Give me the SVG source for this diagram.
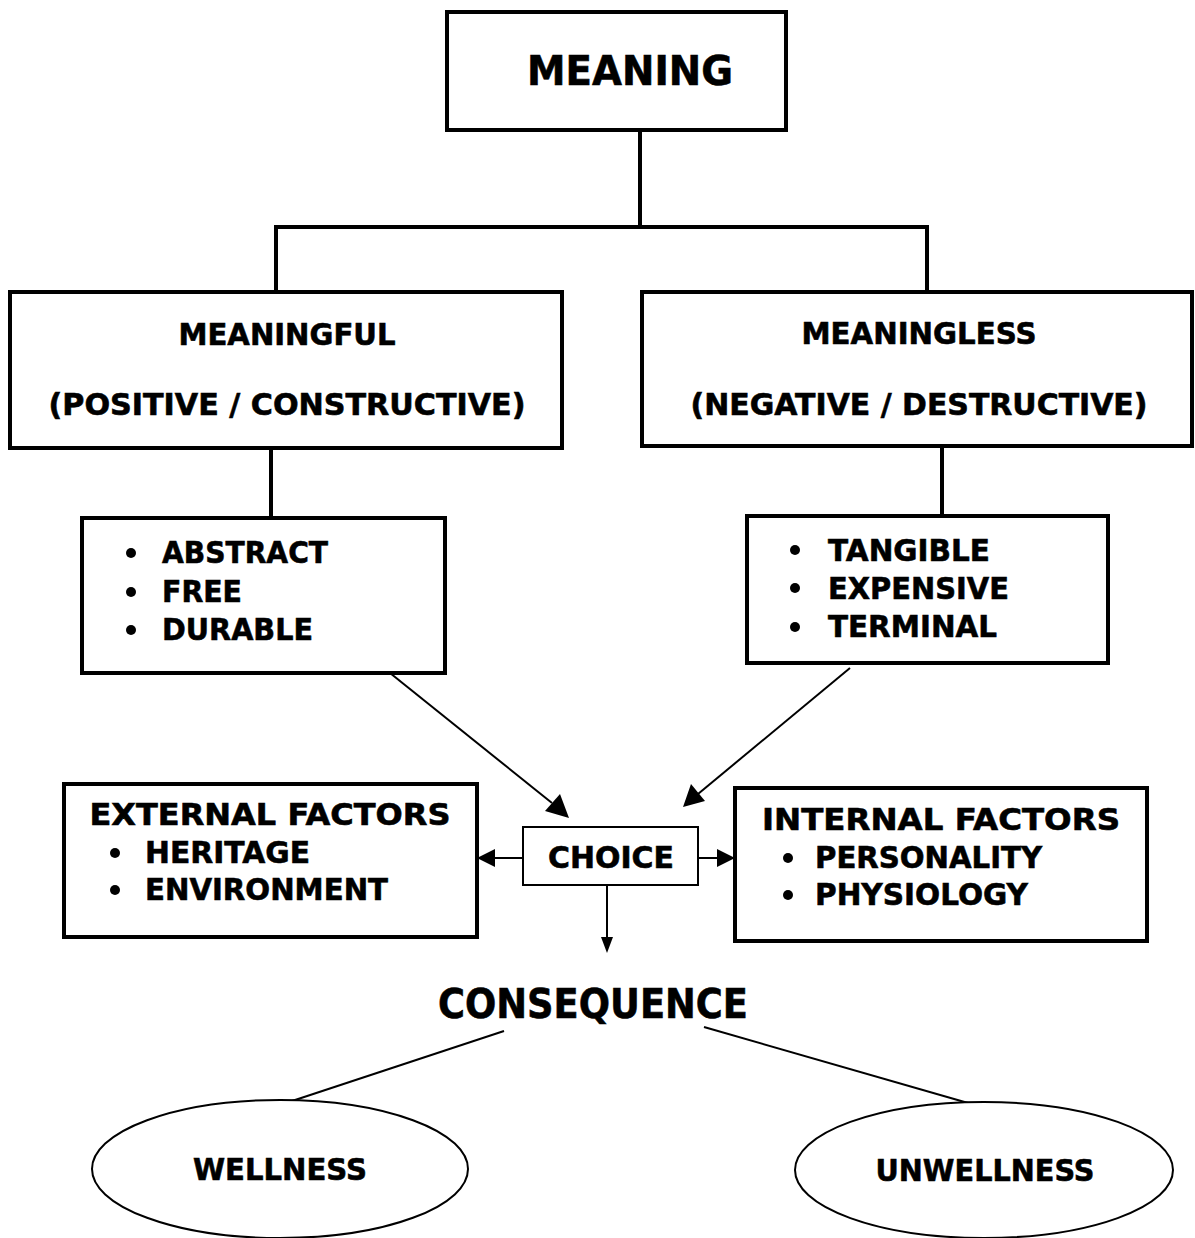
<svg xmlns="http://www.w3.org/2000/svg" width="1195" height="1238" viewBox="0 0 1195 1238">
<style>
text{font-family:"DejaVu Sans","Verdana","Liberation Sans",sans-serif;font-weight:bold;fill:#000;stroke:#000;stroke-width:0.6}
.box{fill:#fff;stroke:#000;stroke-width:4}
.thin{fill:#fff;stroke:#000;stroke-width:2}
.ln{stroke:#000;stroke-width:4;fill:none}
.ar{stroke:#000;stroke-width:2;fill:none}
.t28{font-size:30px}
.t38{font-size:40px}
</style>
<rect width="1195" height="1238" fill="#fff"/>
<g id="connectors">
<polyline class="ln" points="640,130 640,227"/>
<polyline class="ln" points="276,292 276,227 927,227 927,292"/>
<line class="ln" x1="271" y1="448" x2="271" y2="518"/>
<line class="ln" x1="942" y1="446" x2="942" y2="516"/>
<line class="ar" x1="390" y1="673" x2="552" y2="803"/>
<path d="M569,818 L545,811 L560,794 z" fill="#000"/>
<line class="ar" x1="850" y1="668" x2="698" y2="794"/>
<path d="M683,807 L691,784 L705,801 z" fill="#000"/>
<line class="ar" x1="523" y1="858" x2="492" y2="858"/>
<path d="M477,858 L495,849 L495,867 z" fill="#000"/>
<line class="ar" x1="698" y1="858" x2="720" y2="858"/>
<path d="M735,858 L717,849 L717,867 z" fill="#000"/>
<line class="ar" x1="607" y1="885" x2="607" y2="940"/>
<path d="M607,953 L601,937 L613,937 z" fill="#000"/>
<line class="ar" x1="504" y1="1031" x2="289" y2="1102"/>
<line class="ar" x1="704" y1="1027" x2="975" y2="1105"/>
</g>
<g id="meaning">
<rect class="box" x="447" y="12" width="339" height="118"/>
<text class="t38" x="630" y="85" text-anchor="middle" textLength="206" lengthAdjust="spacingAndGlyphs">MEANING</text>
</g>
<g id="meaningful">
<rect class="box" x="10" y="292" width="552" height="156"/>
<text class="t28" x="287" y="345" text-anchor="middle" textLength="217" lengthAdjust="spacingAndGlyphs">MEANINGFUL</text>
<text class="t28" x="287" y="415" text-anchor="middle" textLength="477" lengthAdjust="spacingAndGlyphs">(POSITIVE / CONSTRUCTIVE)</text>
</g>
<g id="meaningless">
<rect class="box" x="642" y="292" width="550" height="154"/>
<text class="t28" x="919" y="344" text-anchor="middle" textLength="235" lengthAdjust="spacingAndGlyphs">MEANINGLESS</text>
<text class="t28" x="919" y="415" text-anchor="middle" textLength="457" lengthAdjust="spacingAndGlyphs">(NEGATIVE / DESTRUCTIVE)</text>
</g>
<g id="positive-list">
<rect class="box" x="82" y="518" width="363" height="155"/>
<circle cx="131" cy="553" r="5"/>
<circle cx="131" cy="592" r="5"/>
<circle cx="131" cy="630" r="5"/>
<text class="t28" x="162" y="563" textLength="166" lengthAdjust="spacingAndGlyphs">ABSTRACT</text>
<text class="t28" x="162" y="602" textLength="80" lengthAdjust="spacingAndGlyphs">FREE</text>
<text class="t28" x="162" y="640" textLength="151" lengthAdjust="spacingAndGlyphs">DURABLE</text>
</g>
<g id="negative-list">
<rect class="box" x="747" y="516" width="361" height="147"/>
<circle cx="795" cy="550" r="5"/>
<circle cx="795" cy="588" r="5"/>
<circle cx="795" cy="627" r="5"/>
<text class="t28" x="828" y="561" textLength="162" lengthAdjust="spacingAndGlyphs">TANGIBLE</text>
<text class="t28" x="828" y="599" textLength="181" lengthAdjust="spacingAndGlyphs">EXPENSIVE</text>
<text class="t28" x="828" y="637" textLength="169" lengthAdjust="spacingAndGlyphs">TERMINAL</text>
</g>
<g id="external">
<rect class="box" x="64" y="784" width="413" height="153"/>
<text class="t28" x="270" y="825" text-anchor="middle" textLength="361" lengthAdjust="spacingAndGlyphs">EXTERNAL FACTORS</text>
<circle cx="115" cy="853" r="5"/>
<circle cx="115" cy="890" r="5"/>
<text class="t28" x="145" y="863" textLength="165" lengthAdjust="spacingAndGlyphs">HERITAGE</text>
<text class="t28" x="145" y="900" textLength="243" lengthAdjust="spacingAndGlyphs">ENVIRONMENT</text>
</g>
<g id="choice">
<rect class="thin" x="523" y="827" width="175" height="58"/>
<text class="t28" x="611" y="868" text-anchor="middle" textLength="126" lengthAdjust="spacingAndGlyphs">CHOICE</text>
</g>
<g id="internal">
<rect class="box" x="735" y="788" width="412" height="153"/>
<text class="t28" x="941" y="830" text-anchor="middle" textLength="358" lengthAdjust="spacingAndGlyphs">INTERNAL FACTORS</text>
<circle cx="788" cy="858" r="5"/>
<circle cx="788" cy="895" r="5"/>
<text class="t28" x="815" y="868" textLength="227" lengthAdjust="spacingAndGlyphs">PERSONALITY</text>
<text class="t28" x="815" y="905" textLength="213" lengthAdjust="spacingAndGlyphs">PHYSIOLOGY</text>
</g>
<g id="consequence">
<text class="t38" x="593" y="1018" text-anchor="middle" textLength="310" lengthAdjust="spacingAndGlyphs">CONSEQUENCE</text>
</g>
<g id="wellness">
<ellipse class="thin" cx="280" cy="1169" rx="188" ry="69"/>
<text class="t28" x="280" y="1180" text-anchor="middle" textLength="174" lengthAdjust="spacingAndGlyphs">WELLNESS</text>
</g>
<g id="unwellness">
<ellipse class="thin" cx="984" cy="1170" rx="189" ry="68"/>
<text class="t28" x="985" y="1181" text-anchor="middle" textLength="219" lengthAdjust="spacingAndGlyphs">UNWELLNESS</text>
</g>
</svg>
